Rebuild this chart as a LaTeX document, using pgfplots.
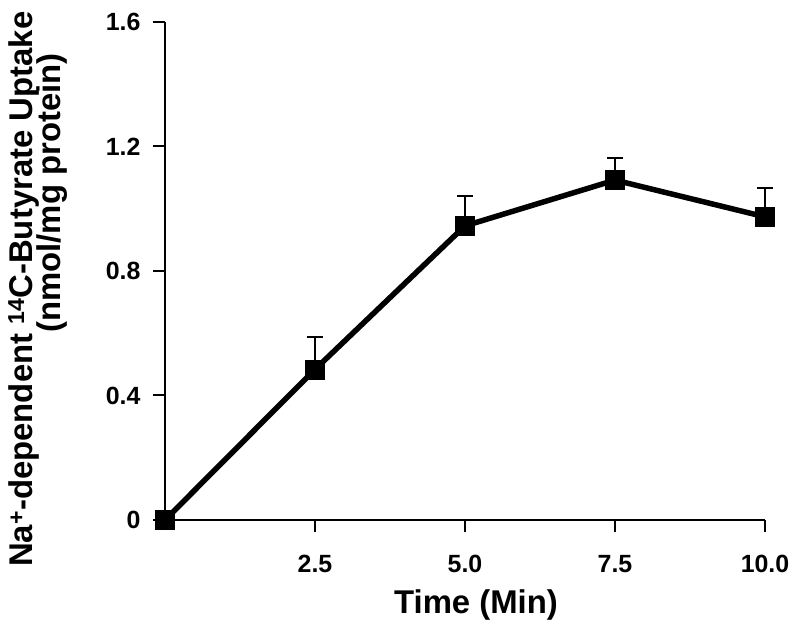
\documentclass[border=0pt]{standalone}
\usepackage{pgfplots}
\pgfplotsset{compat=1.18}
\usepackage{fontspec}
\setmainfont{Liberation Sans}
\begin{document}
\begin{tikzpicture}
\useasboundingbox (-165bp,-102bp) rectangle (630bp,520bp);
\begin{axis}[
 at={(0,0)}, anchor=origin,
 scale only axis, width=600bp, height=498bp,
 xmin=0,xmax=10,ymin=0,ymax=1.6,
 axis x line*=bottom, axis y line*=left,
 axis line style={line width=2bp},
 tick align=outside, major tick length=12bp,
 tick style={line width=2bp, black},
 xtick={2.5,5,7.5,10}, xticklabels={2.5,5.0,7.5,10.0},
 ytick={0,0.4,0.8,1.2,1.6}, yticklabels={0,0.4,0.8,1.2,1.6},
 ticklabel style={font=\fontsize{25}{29}\selectfont\bfseries},
 yticklabel style={xshift=-9bp},
 xticklabel style={yshift=-20bp},
 clip=false,
]
\addplot[black, line width=5.5bp, mark=square*, mark size=9.5bp,
 mark options={line width=0.5bp, solid},
 error bars/.cd, y dir=plus, y explicit,
 error bar style={line width=2bp},
 error mark options={rotate=90, mark size=8bp, line width=2bp}]
 table[x=x,y=y,y error=e] {
 x y e
 0 0 0
 2.5 0.484 0.104
 5 0.945 0.095
 7.5 1.092 0.070
 10 0.974 0.094
 };
\end{axis}
\node[rotate=90, anchor=base west, inner sep=0pt, font=\fontsize{33}{38}\selectfont\bfseries] at (-132bp,-47bp) {Na\textsuperscript{+}-dependent \textsuperscript{14}C-Butyrate Uptake};
\node[rotate=90, anchor=base west, inner sep=0pt, font=\fontsize{33}{38}\selectfont\bfseries] at (-104bp,187bp) {(nmol/mg protein)};
\node[anchor=base, inner sep=0pt, font=\fontsize{33}{38}\selectfont\bfseries] at (311bp,-93bp) {Time (Min)};
\end{tikzpicture}
\end{document}
